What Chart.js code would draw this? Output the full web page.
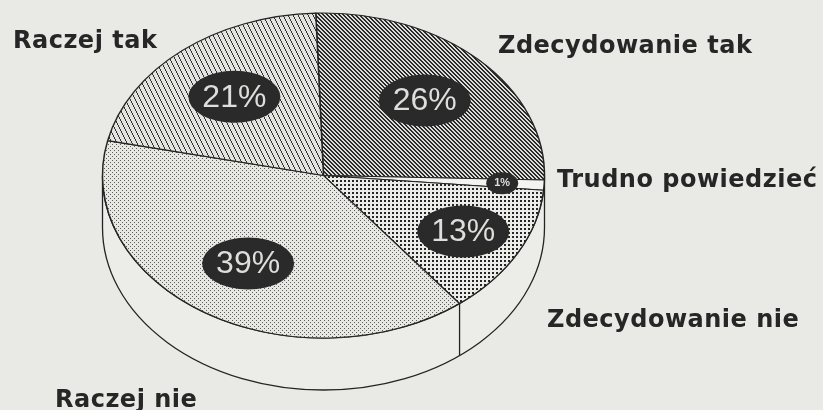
<!DOCTYPE html>
<html>
<head>
<meta charset="utf-8">
<script src="https://cdn.jsdelivr.net/npm/chart.js@4/dist/chart.umd.min.js"></script>
<style>
  html, body { margin: 0; padding: 0; background: #e9e9e5; }
  #wrap { width: 823px; height: 410px; position: relative; }
</style>
</head>
<body>
<div id="wrap"><canvas id="pie" width="823" height="410"></canvas></div>
<script>
// data, clockwise from the top
const answers = ["Zdecydowanie tak", "Trudno powiedzieć", "Zdecydowanie nie", "Raczej nie", "Raczej tak"];
const shares = [26, 1, 13, 39, 21];
const shareLabels = ["26%", "1%", "13%", "39%", "21%"];

// look of the tilted disc
const RX = 221, RY = 162.5, DEPTH = 52, TILT = -2;
const EDGE = "#242424";
const SIDE = "#ececE9";
const INK = "#262626";

// where the texts go
const labelPos = [[498, 53], [557, 187], [547, 327], [55, 407], [13, 48]];
const badgeReach = [0.65, 0.81, 0.72, 0.64, 0.63];

// pixel tiles for the fill patterns
function tile(w, h, bg, fg, on) {
  const c = document.createElement("canvas");
  c.width = w;
  c.height = h;
  const g = c.getContext("2d");
  g.fillStyle = bg;
  g.fillRect(0, 0, w, h);
  g.fillStyle = fg;
  for (let y = 0; y < h; y++) {
    for (let x = 0; x < w; x++) {
      if (on(x, y)) g.fillRect(x, y, 1, 1);
    }
  }
  return c;
}

const mod = (a, n) => ((a % n) + n) % n;

const ctx = document.getElementById("pie").getContext("2d");
const fills = [
  ctx.createPattern(tile(4, 4, "#dcdcd8", "#2a2a2a", (x, y) => mod(x - y, 4) < 2), "repeat"),
  "#f3f3f1",
  ctx.createPattern(tile(4, 4, "#ececE9", "#262626", (x, y) => x < 2 && y < 2), "repeat"),
  ctx.createPattern(tile(4, 4, "#e7e7e3", "#5c5c5c", (x, y) => (x === 0 && y === 0) || (x === 2 && y === 2)), "repeat"),
  ctx.createPattern(tile(5, 10, "#e3e3df", "#333333", (x, y) => mod(2 * x - y, 10) < 2), "repeat")
];

const pie3d = {
  id: "pie3d",
  beforeDatasetsDraw(chart) {
    const c = chart.ctx;
    const arcs = chart.getDatasetMeta(0).data;
    const { x, y, outerRadius: r } = arcs[0];
    const sx = RX / r, sy = RY / r;

    // side of the disc
    c.save();
    c.beginPath();
    c.ellipse(x, y, RX, RY, 0, 0, Math.PI);
    c.lineTo(x - RX, y + DEPTH);
    c.ellipse(x, y + DEPTH, RX, RY, 0, Math.PI, 0, true);
    c.closePath();
    c.fillStyle = SIDE;
    c.fill();
    c.lineWidth = 1.3;
    c.strokeStyle = EDGE;
    c.stroke();
    arcs.forEach(a => {
      const ang = a.startAngle;
      if (Math.sin(ang) > 0.2) {
        const px = x + RX * Math.cos(ang), py = y + RY * Math.sin(ang);
        c.beginPath();
        c.moveTo(px, py);
        c.lineTo(px, py + DEPTH);
        c.stroke();
      }
    });
    c.restore();

    // squash the round pie into the top face, keep patterns upright and crisp
    const m = new DOMMatrix().translate(x, y).scale(1 / sx, 1 / sy).translate(-x, -y);
    fills.forEach(p => { if (p instanceof CanvasPattern) p.setTransform(m); });
    c.save();
    c.imageSmoothingEnabled = false;
    c.translate(x, y);
    c.scale(sx, sy);
    c.translate(-x, -y);
  },
  afterDatasetsDraw(chart) {
    const c = chart.ctx;
    c.restore();
    const arcs = chart.getDatasetMeta(0).data;
    const { x, y } = arcs[0];

    c.save();
    c.textAlign = "center";
    c.textBaseline = "middle";
    arcs.forEach((a, i) => {
      const mid = (a.startAngle + a.endAngle) / 2;
      const bx = x + RX * badgeReach[i] * Math.cos(mid);
      const by = y + RY * badgeReach[i] * Math.sin(mid);
      const small = shares[i] < 5;
      c.beginPath();
      c.ellipse(bx, by, small ? 16 : 46, small ? 11 : 26, 0, 0, Math.PI * 2);
      c.fillStyle = "#2a2a2a";
      c.fill();
      c.fillStyle = "#dededc";
      c.font = small ? "bold 11px 'Liberation Sans'" : "32px 'Liberation Sans'";
      c.fillText(shareLabels[i], bx, by + (small ? 0 : 1));
    });

    c.textAlign = "left";
    c.textBaseline = "alphabetic";
    c.fillStyle = INK;
    c.font = "bold 24px 'DejaVu Sans'";
    c.letterSpacing = "0.5px";
    answers.forEach((name, i) => {
      c.fillText(name, labelPos[i][0], labelPos[i][1]);
    });
    c.restore();
  }
};

new Chart(ctx, {
  type: "pie",
  data: {
    labels: answers,
    datasets: [{
      data: shares,
      backgroundColor: fills,
      borderColor: EDGE,
      borderWidth: 1.1,
      clip: false
    }]
  },
  options: {
    responsive: false,
    animation: false,
    events: [],
    rotation: TILT,
    layout: { padding: { left: 161, right: 337, top: 13, bottom: 72 } },
    plugins: {
      legend: { display: false },
      tooltip: { enabled: false }
    }
  },
  plugins: [pie3d]
});
</script>
</body>
</html>
